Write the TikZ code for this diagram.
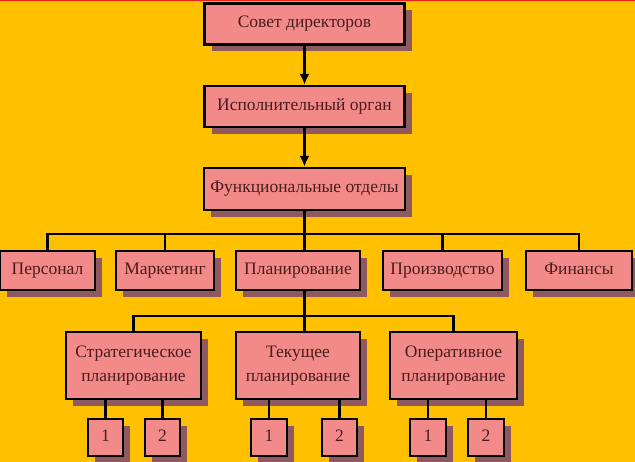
\documentclass[tikz,border=0pt]{standalone}
\usepackage{fontspec}
\setmainfont{Liberation Serif}
\usetikzlibrary{shadows,arrows.meta}
\definecolor{bgyellow}{HTML}{FFC000}
\definecolor{topred}{HTML}{F02010}
\definecolor{boxpink}{HTML}{F28A8A}
\definecolor{shadowmauve}{HTML}{8E5A60}
\definecolor{inkbrown}{HTML}{4A1C1C}
\tikzset{
  orgbox/.style={draw=black, line width=2.4pt, fill=boxpink, text=inkbrown,
    font=\fontsize{17.5}{20}\selectfont, inner sep=0pt, align=center,
    drop shadow={shadow xshift=7pt, shadow yshift=-7pt, fill=shadowmauve, opacity=1}},
  oneline/.style={orgbox, text height=12pt, text depth=4pt},
  link/.style={draw=black, line width=2.2pt},
  flow/.style={link, -{Latex[length=11pt,width=10pt]}}
}
\begin{document}
\begin{tikzpicture}[x=1pt,y=-1pt]
  % canvas
  \fill[bgyellow] (0,0) rectangle (635,462);
  \fill[topred] (0,0) rectangle (635,1.5);
  \useasboundingbox (0,0) rectangle (635,462);

  % management chain
  \node[oneline, minimum width=200pt, minimum height=41pt] (sd) at (304.5,24) {Совет директоров};
  \node[oneline, minimum width=200pt, minimum height=41pt] (io) at (304.5,106.5) {Исполнительный орган};
  \node[oneline, minimum width=201pt, minimum height=42pt] (fo) at (304.5,189) {Функциональные отделы};

  % departments
  \node[oneline, minimum width=95pt,  minimum height=39pt] (per) at (47.5,270.5) {Персонал};
  \node[oneline, minimum width=98pt,  minimum height=39pt] (mar) at (165,270.5) {Маркетинг};
  \node[oneline, minimum width=124pt, minimum height=39pt] (pla) at (298,270.5) {Планирование};
  \node[oneline, minimum width=119pt, minimum height=39pt] (pro) at (442.5,270.5) {Производство};
  \node[oneline, minimum width=106pt, minimum height=39pt] (fin) at (579,270.5) {Финансы};

  % planning kinds
  \node[orgbox, minimum width=135pt, minimum height=67pt] (str) at (133.5,365.5) {Стратегическое\\[4pt]планирование};
  \node[orgbox, minimum width=124pt, minimum height=67pt] (tek) at (298,365.5) {Текущее\\[4pt]планирование};
  \node[orgbox, minimum width=127pt, minimum height=67pt] (ope) at (453.5,365.5) {Оперативное\\[4pt]планирование};

  % numbered subunits
  \node[oneline, minimum width=35pt, minimum height=37pt] (s1) at (105.5,437.5) {1};
  \node[oneline, minimum width=35pt, minimum height=37pt] (s2) at (162.5,437.5) {2};
  \node[oneline, minimum width=36pt, minimum height=37pt] (t1) at (269,437.5) {1};
  \node[oneline, minimum width=35pt, minimum height=37pt] (t2) at (339.5,437.5) {2};
  \node[oneline, minimum width=36pt, minimum height=37pt] (o1) at (428,437.5) {1};
  \node[oneline, minimum width=36pt, minimum height=37pt] (o2) at (486,437.5) {2};

  % arrows down the chain
  \draw[flow] (sd.south) -- (io.north);
  \draw[flow] (io.south) -- (fo.north);

  % department bus
  \coordinate (busA) at (0,234);
  \draw[link] (per.north) -- (per.north |- busA) -- (fin.north |- busA) -- (fin.north);
  \draw[link] (mar.north) -- (mar.north |- busA);
  \draw[link] (pro.north) -- (pro.north |- busA);
  \draw[link] (fo.south) -- (fo.south |- pla.north);

  % planning bus
  \coordinate (busB) at (0,316);
  \draw[link] (fo.south |- pla.south) -- (fo.south |- tek.north);
  \draw[link] (str.north) -- (str.north |- busB) -- (ope.north |- busB) -- (ope.north);

  % subunit links
  \foreach \p/\c in {str/s1, str/s2, tek/t1, tek/t2, ope/o1, ope/o2}
    \draw[link] (\c.north) -- (\c.north |- \p.south);
\end{tikzpicture}
\end{document}
